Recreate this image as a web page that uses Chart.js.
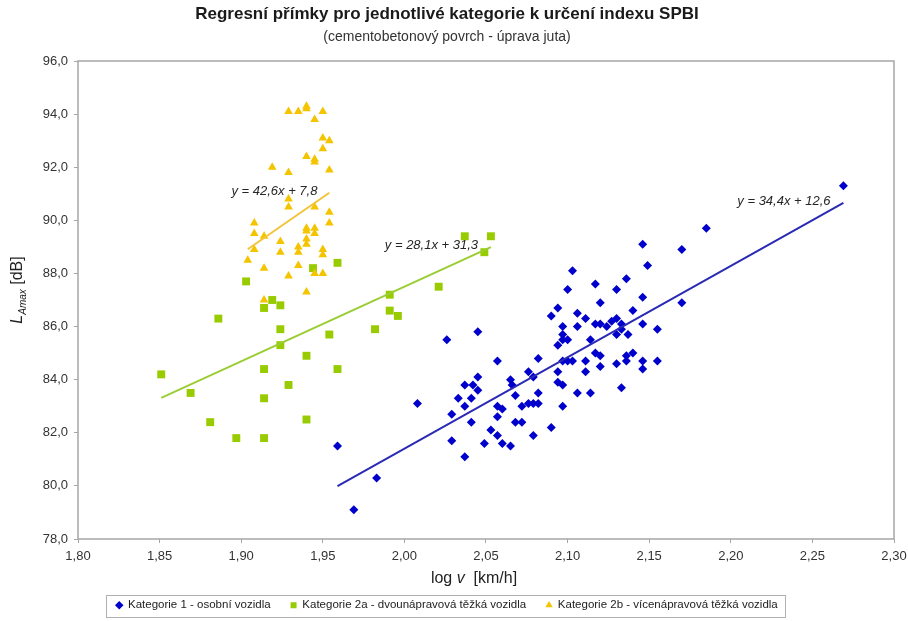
<!DOCTYPE html>
<html>
<head>
<meta charset="utf-8">
<script src="https://cdn.jsdelivr.net/npm/chart.js@4.4.1/dist/chart.umd.min.js"></script>
<style>
  html, body { margin: 0; padding: 0; background: #fff; }
  #wrap { width: 908px; height: 621px; }
</style>
</head>
<body>
<div id="wrap"><canvas id="chart"></canvas></div>
<script>
// Kategorie 1 - osobní vozidla
const kat1LogV = [
  2.269, 2.185, 2.170, 2.170, 2.146, 2.149, 2.103, 2.136, 2.117, 2.100,
  2.130, 2.146, 2.120, 2.094, 2.090, 2.140, 2.106, 2.111, 2.127, 2.130,
  2.117, 2.120, 2.124, 2.133, 2.133, 2.146, 2.155, 2.097, 2.106, 2.097,
  2.100, 2.097, 2.094, 2.130, 2.137, 2.114, 2.045, 2.026, 2.082, 2.097,
  2.100, 2.103, 2.057, 2.111, 2.117, 2.120, 2.130, 2.136, 2.140, 2.136,
  2.146, 2.146, 2.155, 2.120, 2.111, 2.094, 2.076, 2.079, 2.045, 2.037,
  2.042, 2.065, 2.066, 2.094, 2.097, 2.045, 2.106, 2.114, 2.133, 2.082,
  2.068, 2.033, 2.041, 2.037, 2.057, 2.060, 2.072, 2.076, 2.079, 2.082,
  2.097, 2.008, 2.029, 2.057, 2.041, 2.068, 2.072, 2.053, 2.090, 2.057,
  2.079, 2.029, 2.049, 2.060, 2.065, 2.037, 1.959, 1.983, 1.969
];
const kat1LAmax = [
  91.3, 89.7, 88.9, 86.9, 89.1, 88.3, 88.1, 87.8, 87.6, 87.4,
  87.4, 87.1, 86.9, 86.7, 86.4, 86.6, 86.5, 86.3, 86.2, 86.3,
  86.1, 86.1, 86.0, 86.1, 85.9, 86.1, 85.9, 86.0, 86.0, 85.7,
  85.5, 85.5, 85.3, 85.7, 85.7, 85.5, 85.8, 85.5, 84.8, 84.7,
  84.7, 84.7, 84.7, 84.7, 85.0, 84.9, 84.6, 84.9, 85.0, 84.7,
  84.7, 84.4, 84.7, 84.5, 84.3, 84.3, 84.3, 84.1, 84.1, 83.8,
  83.8, 84.0, 83.8, 83.9, 83.8, 83.6, 83.5, 83.5, 83.7, 83.5,
  83.4, 83.3, 83.3, 83.0, 83.0, 82.9, 83.0, 83.1, 83.1, 83.1,
  83.0, 83.1, 82.7, 82.6, 82.4, 82.4, 82.4, 82.1, 82.2, 81.9,
  81.9, 81.7, 81.6, 81.6, 81.5, 81.1, 81.5, 80.3, 79.1
];

// Kategorie 2a - dvounápravová těžká vozidla
const kat2aLogV = [
  1.903, 1.914, 1.919, 1.924, 1.944, 1.959, 1.886, 1.924, 1.954, 1.924,
  1.940, 1.851, 1.914, 1.959, 1.869, 1.929, 1.914, 1.881, 1.940, 1.897,
  1.914, 2.037, 2.053, 2.049, 1.991, 2.021, 1.991, 1.996, 1.982
];
const kat2aLAmax = [
  87.7, 86.7, 87.0, 86.8, 88.2, 88.4, 86.3, 85.9, 85.7, 85.3,
  84.9, 84.2, 84.4, 84.4, 83.5, 83.8, 83.3, 82.4, 82.5, 81.8,
  81.8, 89.4, 89.4, 88.8, 87.2, 87.5, 86.6, 86.4, 85.9
];

// Kategorie 2b - vícenápravová těžká vozidla
const kat2bLogV = [
  1.929, 1.935, 1.940, 1.940, 1.945, 1.950, 1.950, 1.954, 1.950, 1.940,
  1.945, 1.945, 1.919, 1.929, 1.954, 1.929, 1.929, 1.945, 1.954, 1.954,
  1.908, 1.908, 1.914, 1.940, 1.940, 1.945, 1.945, 1.940, 1.940, 1.924,
  1.935, 1.908, 1.924, 1.935, 1.950, 1.950, 1.904, 1.914, 1.935, 1.929,
  1.945, 1.950, 1.940, 1.914
];
const kat2bLAmax = [
  94.1, 94.1, 94.3, 94.2, 93.8, 94.1, 93.1, 93.0, 92.7, 92.4,
  92.3, 92.2, 92.0, 91.8, 91.9, 90.8, 90.5, 90.5, 90.3, 89.9,
  89.9, 89.5, 89.4, 89.7, 89.6, 89.7, 89.5, 89.3, 89.1, 89.2,
  89.0, 88.9, 88.8, 88.8, 88.9, 88.7, 88.5, 88.2, 88.3, 87.9,
  88.0, 88.0, 87.3, 87.0
];

// regression lines as printed in the chart: y = k*x + q
const seriesNames = [
  'Kategorie 1 - osobní vozidla',
  'Kategorie 2a - dvounápravová těžká vozidla',
  'Kategorie 2b - vícenápravová těžká vozidla'
];
const trendSlopes = [34.4, 28.1, 42.6];
const trendIntercepts = [12.6, 31.3, 7.8];

// axis ticks
const xTickValues = [1.80, 1.85, 1.90, 1.95, 2.00, 2.05, 2.10, 2.15, 2.20, 2.25, 2.30];
const yTickValues = [78, 80, 82, 84, 86, 88, 90, 92, 94, 96];

const FONT = '"Liberation Sans", Arial, sans-serif';
const comma = (v, d) => v.toFixed(d).replace('.', ',');

function toPoints(xs, ys) {
  return xs.map((x, i) => ({ x: x, y: ys[i] }));
}
function trendLine(xs, k, q) {
  const a = Math.min(...xs), b = Math.max(...xs);
  return [{ x: a, y: k * a + q }, { x: b, y: k * b + q }];
}

const blue = '#0000cc', green = '#99cc00', gold = '#f5c400';

// where the equations sit (data coordinates)
const eqAnchors = [
  { x: 2.204, y: 90.7 },
  { x: 1.988, y: 89.07 },
  { x: 1.894, y: 91.1 }
];

const framePlugin = {
  id: 'frame',
  beforeDatasetsDraw(chart) {
    const a = chart.chartArea, ctx = chart.ctx;
    ctx.save();
    ctx.strokeStyle = '#a6a6a6';
    ctx.lineWidth = 1.5;
    ctx.strokeRect(a.left, a.top, a.right - a.left, a.bottom - a.top);
    ctx.restore();
  }
};

const equationsPlugin = {
  id: 'equations',
  afterDatasetsDraw(chart) {
    const ctx = chart.ctx, xs = chart.scales.x, ys = chart.scales.y;
    ctx.save();
    ctx.font = 'italic 13px ' + FONT;
    ctx.fillStyle = '#262626';
    ctx.textAlign = 'left';
    ctx.textBaseline = 'middle';
    eqAnchors.forEach(function(p, i) {
      const txt = 'y = ' + comma(trendSlopes[i], 1) + 'x + ' + comma(trendIntercepts[i], 1);
      ctx.fillText(txt, xs.getPixelForValue(p.x), ys.getPixelForValue(p.y));
    });
    ctx.restore();
  }
};

function drawParts(ctx, parts, x, y) {
  parts.forEach(function(p) {
    ctx.font = p.font;
    ctx.fillText(p.text, x, y + (p.dy || 0));
    x += ctx.measureText(p.text).width;
  });
}
function partsWidth(ctx, parts) {
  let w = 0;
  parts.forEach(function(p) { ctx.font = p.font; w += ctx.measureText(p.text).width; });
  return w;
}

const axisTitlesPlugin = {
  id: 'axisTitles',
  afterDraw(chart) {
    const ctx = chart.ctx, a = chart.chartArea;
    ctx.save();
    ctx.fillStyle = '#222';
    ctx.textAlign = 'left';
    ctx.textBaseline = 'alphabetic';

    // log v [km/h]
    const xParts = [
      { text: 'log ', font: '16px ' + FONT },
      { text: 'v', font: 'italic 16px ' + FONT },
      { text: '  [km/h]', font: '16px ' + FONT }
    ];
    const xw = partsWidth(ctx, xParts);
    drawParts(ctx, xParts, (a.left + a.right) / 2 - 12 - xw / 2, a.bottom + 44);

    // L_Amax [dB]
    const yParts = [
      { text: 'L', font: 'italic 16px ' + FONT },
      { text: 'Amax', font: 'italic 10px ' + FONT, dy: 4 },
      { text: ' [dB]', font: '16px ' + FONT }
    ];
    const yw = partsWidth(ctx, yParts);
    ctx.translate(22, (a.top + a.bottom) / 2 - 10);
    ctx.rotate(-Math.PI / 2);
    drawParts(ctx, yParts, -yw / 2, 0);
    ctx.restore();
  }
};

const legendBoxPlugin = {
  id: 'legendBox',
  afterDraw(chart) {
    const boxes = chart.legend && chart.legend.legendHitBoxes;
    if (!boxes || !boxes.length) return;
    let l = Infinity, r = -Infinity, t = Infinity, b = -Infinity;
    boxes.forEach(function(h) {
      l = Math.min(l, h.left); r = Math.max(r, h.left + h.width);
      t = Math.min(t, h.top); b = Math.max(b, h.top + h.height);
    });
    const ctx = chart.ctx;
    ctx.save();
    ctx.strokeStyle = '#b0b0b0';
    ctx.lineWidth = 1;
    ctx.strokeRect(Math.round(l - 10) + 0.5, Math.round(t - 5) + 0.5, Math.round(r - l + 18), Math.round(b - t + 10));
    ctx.restore();
  }
};

document.addEventListener('DOMContentLoaded', function() {
  const ctx = document.getElementById('chart').getContext('2d');

  new Chart(ctx, {
    type: 'scatter',
    data: {
      datasets: [
        {
          label: seriesNames[0],
          data: toPoints(kat1LogV, kat1LAmax),
          pointStyle: 'rectRot',
          pointRadius: 4.5,
          backgroundColor: blue,
          borderColor: blue,
          borderWidth: 0,
          order: 3
        },
        {
          label: seriesNames[1],
          data: toPoints(kat2aLogV, kat2aLAmax),
          pointStyle: 'rect',
          pointRadius: 5.6,
          backgroundColor: green,
          borderColor: green,
          borderWidth: 0,
          order: 2
        },
        {
          label: seriesNames[2],
          data: toPoints(kat2bLogV, kat2bLAmax),
          pointStyle: 'triangle',
          pointRadius: 5,
          backgroundColor: gold,
          borderColor: gold,
          borderWidth: 0,
          order: 1
        },
        {
          label: 'trend1',
          data: trendLine(kat1LogV, trendSlopes[0], trendIntercepts[0]),
          showLine: true, pointRadius: 0, borderColor: '#2a2ab4', borderWidth: 2, order: 0
        },
        {
          label: 'trend2a',
          data: trendLine(kat2aLogV, trendSlopes[1], trendIntercepts[1]),
          showLine: true, pointRadius: 0, borderColor: '#9acd32', borderWidth: 2, order: 0
        },
        {
          label: 'trend2b',
          data: trendLine(kat2bLogV, trendSlopes[2], trendIntercepts[2]),
          showLine: true, pointRadius: 0, borderColor: '#f2c43a', borderWidth: 2, order: 0
        }
      ]
    },
    options: {
      responsive: true,
      maintainAspectRatio: false,
      animation: false,
      layout: { padding: { left: 0, right: 14, top: 0, bottom: 0 } },
      scales: {
        x: {
          type: 'linear',
          min: 1.8,
          max: 2.3,
          afterBuildTicks: function(scale) {
            scale.ticks = xTickValues.map(function(v) { return { value: v }; });
          },
          afterFit: function(scale) {
            scale.height = 40.5;
            scale.paddingLeft = 0;
            scale.paddingRight = 0;
          },
          ticks: {
            color: '#333',
            font: { family: FONT, size: 13 },
            padding: 6,
            maxRotation: 0,
            callback: function(v) { return comma(v, 2); }
          },
          grid: { display: true, drawOnChartArea: false, color: '#a6a6a6', tickLength: 4 },
          border: { display: false }
        },
        y: {
          type: 'linear',
          min: 78,
          max: 96,
          afterBuildTicks: function(scale) {
            scale.ticks = yTickValues.map(function(v) { return { value: v }; });
          },
          afterFit: function(scale) { scale.width = 78; },
          ticks: {
            color: '#333',
            font: { family: FONT, size: 13 },
            padding: 6,
            callback: function(v) { return comma(v, 1); }
          },
          grid: { display: true, drawOnChartArea: false, color: '#a6a6a6', tickLength: 4 },
          border: { display: false }
        }
      },
      plugins: {
        title: {
          display: true,
          text: 'Regresní přímky pro jednotlivé kategorie k určení indexu SPBI',
          color: '#1a1a1a',
          font: { family: FONT, size: 17, weight: 'bold' },
          padding: { top: 4, bottom: 3 }
        },
        subtitle: {
          display: true,
          text: '(cementobetonový povrch - úprava juta)',
          color: '#333',
          font: { family: FONT, size: 14 },
          padding: { top: 1, bottom: 15.8 }
        },
        legend: {
          position: 'bottom',
          labels: {
            usePointStyle: true,
            boxWidth: 6,
            boxHeight: 6,
            padding: 20,
            color: '#222',
            font: { family: FONT, size: 11.5 },
            filter: function(item) { return item.datasetIndex < 3; },
            sort: function(a, b) { return a.datasetIndex - b.datasetIndex; }
          }
        },
        tooltip: { enabled: false }
      }
    },
    plugins: [framePlugin, equationsPlugin, axisTitlesPlugin, legendBoxPlugin]
  });
});
</script>
</body>
</html>
